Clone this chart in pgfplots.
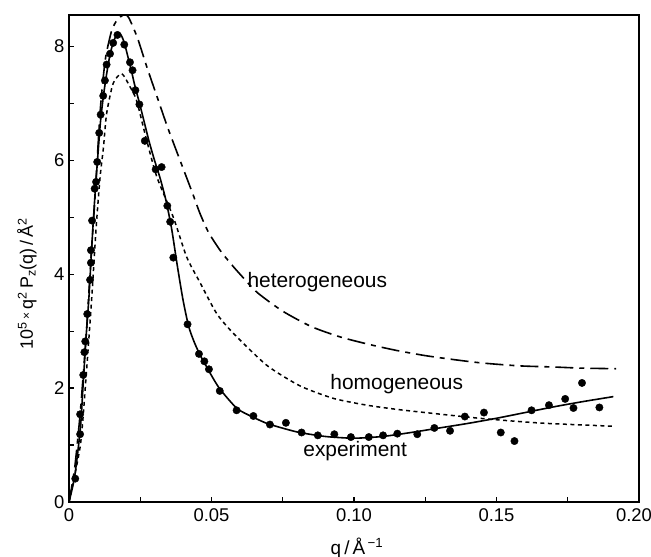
\documentclass[border=0pt]{standalone}
\usepackage{fontspec}
\setmainfont{Liberation Sans}
\usepackage{pgfplots}
\pgfplotsset{compat=1.18}

\pgfplotstableread{
q y
0.0022 0.41
0.0039 1.19
0.0039 1.54
0.0050 2.23
0.0054 2.63
0.0057 2.82
0.0064 3.30
0.0074 3.90
0.0077 4.20
0.0077 4.42
0.0081 4.94
0.0090 5.50
0.0095 5.62
0.0099 5.97
0.0106 6.48
0.0111 6.80
0.0120 7.13
0.0126 7.40
0.0132 7.68
0.0144 7.87
0.0155 8.06
0.0170 8.20
0.0194 8.03
0.0214 7.72
0.0223 7.58
0.0233 7.23
0.0247 6.98
0.0266 6.34
0.0304 5.84
0.0325 5.88
0.0345 5.20
0.0355 4.92
0.0366 4.29
0.0416 3.12
0.0456 2.60
0.0475 2.47
0.0491 2.33
0.0529 1.95
0.0588 1.61
0.0647 1.51
0.0705 1.36
0.0761 1.39
0.0816 1.22
0.0873 1.17
0.0931 1.19
0.0989 1.14
0.1052 1.14
0.1102 1.17
0.1152 1.20
0.1222 1.19
0.1282 1.30
0.1337 1.25
0.1389 1.50
0.1456 1.57
0.1515 1.22
0.1563 1.07
0.1623 1.61
0.1684 1.70
0.1741 1.81
0.1770 1.65
0.1800 2.09
0.1861 1.66
}\expdata

\pgfplotstableread{
q y
0 0
0.002 0.45
0.004 1.30
0.005 2.10
0.006 2.90
0.007 3.60
0.008 4.50
0.009 5.30
0.010 6.00
0.011 6.65
0.012 7.10
0.013 7.45
0.014 7.75
0.015 7.98
0.016 8.13
0.017 8.22
0.018 8.22
0.019 8.12
0.020 7.95
0.021 7.75
0.022 7.55
0.023 7.33
0.025 6.95
0.028 6.35
0.030 6.00
0.032 5.68
0.034 5.30
0.036 4.80
0.038 4.15
0.040 3.55
0.042 3.08
0.044 2.80
0.046 2.58
0.048 2.40
0.050 2.22
0.053 1.98
0.059 1.64
0.065 1.48
0.070 1.37
0.080 1.23
0.090 1.15
0.100 1.12
0.110 1.15
0.120 1.22
0.130 1.30
0.140 1.38
0.150 1.47
0.160 1.57
0.170 1.67
0.180 1.76
0.191 1.85
}\expfit

\pgfplotstableread{
q y
0 0
0.002 0.60
0.004 1.60
0.006 2.90
0.007 3.70
0.008 4.50
0.009 5.25
0.010 6.10
0.011 6.90
0.012 7.45
0.013 7.85
0.015 8.28
0.017 8.47
0.0195 8.56
0.021 8.50
0.024 8.15
0.0273 7.64
0.031 7.10
0.0348 6.55
0.0407 5.77
0.0435 5.40
0.046 5.06
0.049 4.73
0.053 4.42
0.0565 4.20
0.060 4.00
0.066 3.68
0.075 3.35
0.085 3.08
0.095 2.90
0.105 2.77
0.115 2.66
0.125 2.57
0.135 2.50
0.145 2.44
0.158 2.39
0.170 2.37
0.180 2.35
0.192 2.34
}\hetero

\pgfplotstableread{
q y
0 0
0.004 1.00
0.006 2.20
0.008 3.60
0.0095 4.80
0.0109 5.70
0.0121 6.23
0.0132 6.82
0.0155 7.35
0.0185 7.52
0.0214 7.29
0.0237 7.05
0.027 6.40
0.0308 5.71
0.0366 5.00
0.0413 4.30
0.046 3.85
0.0518 3.31
0.0577 2.96
0.0694 2.40
0.081 2.04
0.0927 1.82
0.1045 1.70
0.116 1.62
0.1325 1.53
0.144 1.47
0.156 1.42
0.1676 1.38
0.191 1.33
}\homo

\begin{document}
\begin{tikzpicture}
\path[use as bounding box] (-69bp,-55bp) rectangle (582bp,502bp);
\begin{axis}[
    scale only axis, width=570bp, height=487bp,
    at={(0,0)}, anchor=south west,
    xmin=0, xmax=0.2, ymin=0, ymax=8.55,
    axis line style={line width=1.7bp},
    tick pos=left, tick align=inside,
    major tick length=5bp, minor tick length=5bp,
    every tick/.style={line width=1.2bp, black},
    xtick={0,0.05,0.1,0.15,0.2}, xticklabels={0,0.05,0.10,0.15,\hspace*{-10bp}0.20},
    minor xtick={0.025,0.075,0.125,0.175},
    ytick={0,2,4,6,8}, yticklabels={0,2,4,6,8},
    minor ytick={1,3,5,7},
    ticklabel style={font=\fontsize{18.5}{21}\selectfont},
    xticklabel style={yshift=-3bp},
    yticklabel style={xshift=-1bp},
    xlabel={q\,/\,Å\textsuperscript{\,−1}},
    xlabel style={at={(axis description cs:0.505,0)}, anchor=base, yshift=-52bp,
        font=\fontsize{19}{22}\selectfont},
    ylabel={10\textsuperscript{5}\,\raisebox{0.15em}{\fontsize{12}{12}\selectfont×}\,q\textsuperscript{2}\,P\textsubscript{z}(q)\,/\,Å\textsuperscript{2}},
    ylabel style={at={(axis description cs:-0.0737,0.448)}, anchor=center,
        font=\fontsize{18}{21}\selectfont},
    clip=true,
]
\addplot[black, line width=1.6bp, smooth, tension=0.4] table {\expfit};
\addplot[black, line width=1.6bp, smooth, tension=0.4,
    dash pattern=on 18bp off 6bp on 5bp off 6bp] table {\hetero};
\addplot[black, line width=1.5bp, smooth, tension=0.4,
    dash pattern=on 4bp off 3.5bp] table {\homo};
\addplot[only marks, mark=*, mark size=3.7bp, black] table {\expdata};
\node[anchor=base west, font=\fontsize{21}{24}\selectfont] at (axis cs:0.0614,3.77) {heterogeneous};
\node[anchor=base west, font=\fontsize{21}{24}\selectfont] at (axis cs:0.0905,1.98) {homogeneous};
\node[anchor=base west, font=\fontsize{21}{24}\selectfont] at (axis cs:0.081,0.80) {experiment};
\end{axis}
\end{tikzpicture}
\end{document}
